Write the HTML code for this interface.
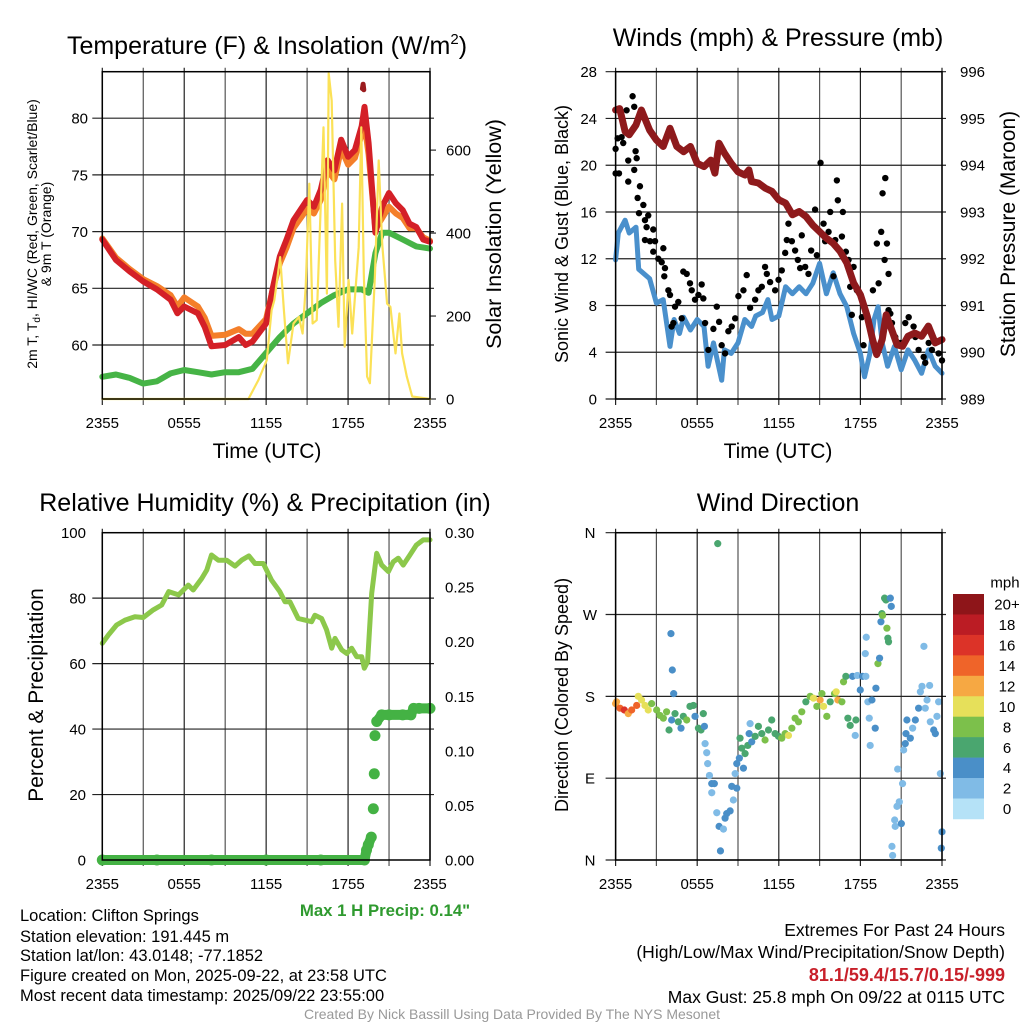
<!DOCTYPE html>
<html><head><meta charset="utf-8">
<style>
html,body{margin:0;padding:0;background:#fff;}
svg{display:block;font-family:"Liberation Sans",sans-serif;}
</style></head>
<body>
<svg id="fig" width="1024" height="1024" viewBox="0 0 1024 1024" xmlns="http://www.w3.org/2000/svg">
<rect x="0" y="0" width="1024" height="1024" fill="#fff"/>
<g id="grids"></g>
<g id="marks"></g>
<g id="frames"></g>
<g id="labels" font-size="15" fill="#000"></g>

<text x="267" y="54" font-size="25" text-anchor="middle">Temperature (F) &amp; Insolation (W/m<tspan dy="-10" font-size="15">2</tspan><tspan dy="10">)</tspan></text>
<text x="778" y="46" font-size="25" text-anchor="middle">Winds (mph) &amp; Pressure (mb)</text>
<text x="265" y="511" font-size="25" text-anchor="middle">Relative Humidity (%) &amp; Precipitation (in)</text>
<text x="778" y="511" font-size="25" text-anchor="middle">Wind Direction</text>

<text x="267" y="458" font-size="21" text-anchor="middle">Time (UTC)</text>
<text x="778" y="458" font-size="21" text-anchor="middle">Time (UTC)</text>

<text transform="translate(37,234) rotate(-90)" font-size="14" text-anchor="middle">2m T, T<tspan dy="3" font-size="10">d</tspan><tspan dy="-3">, HI/WC (Red, Green, Scarlet/Blue)</tspan></text>
<text transform="translate(51,234) rotate(-90)" font-size="14" text-anchor="middle">&amp; 9m T (Orange)</text>
<text transform="translate(501,234) rotate(-90)" font-size="21.5" text-anchor="middle">Solar Insolation (Yellow)</text>
<text transform="translate(568,234) rotate(-90)" font-size="18" text-anchor="middle">Sonic Wind &amp; Gust (Blue, Black)</text>
<text transform="translate(1015,234) rotate(-90)" font-size="21" text-anchor="middle">Station Pressure (Maroon)</text>
<text transform="translate(43,695) rotate(-90)" font-size="21" text-anchor="middle">Percent &amp; Precipitation</text>
<text transform="translate(568,695) rotate(-90)" font-size="18" text-anchor="middle">Direction (Colored By Speed)</text>

<text x="385" y="916" font-size="16.8" font-weight="bold" fill="#2f9a2f" text-anchor="middle">Max 1 H Precip: 0.14"</text>

<g font-size="16.5">
<text x="20" y="921">Location: Clifton Springs</text>
<text x="20" y="942">Station elevation: 191.445 m</text>
<text x="20" y="961">Station lat/lon: 43.0148; -77.1852</text>
<text x="20" y="981">Figure created on Mon, 2025-09-22, at 23:58 UTC</text>
<text x="20" y="1001">Most recent data timestamp: 2025/09/22 23:55:00</text>
</g>
<g font-size="17.5" text-anchor="end">
<text x="1005" y="936">Extremes For Past 24 Hours</text>
<text x="1005" y="958">(High/Low/Max Wind/Precipitation/Snow Depth)</text>
<text x="1005" y="981" font-size="18" font-weight="bold" fill="#c8202a">81.1/59.4/15.7/0.15/-999</text>
<text x="1005" y="1003">Max Gust: 25.8 mph On 09/22 at 0115 UTC</text>
</g>
<text x="512" y="1019" font-size="14" fill="#999" text-anchor="middle">Created By Nick Bassill Using Data Provided By The NYS Mesonet</text>
</svg>

<script>
// ---------- data ----------
const timeTickLabels = ["2355","0555","1155","1755","2355"];
// Panel 1: temperature (F)
const tempHours = [0,1,2,3,4,5,5.5,6,7,7.5,8,9,10,10.5,11,12,12.5,13,13.5,14,15,15.5,16,16.5,17,17.5,18,18.5,19,19.2,19.5,20,20.5,21,21.5,22,22.5,23,23.5,24];
const tempRed   = [69.3,67.5,66.5,65.6,64.9,64,62.8,63.4,62.8,61.6,59.9,60,60.7,60,60.3,61.9,65.1,67.8,69.3,71,72.8,72.2,73.7,76.3,75.4,78.1,76.6,77.2,79.3,81,77.8,69.9,72.2,73.4,72.5,71.9,70.7,70.4,69.3,69.1];
const tempOrange= [69.4,67.7,66.7,65.8,65.2,64.4,63.4,64.2,63.4,62.4,60.8,60.9,61.4,61,61,62.3,65.0,67.2,68.6,70.3,72.0,71.6,72.8,75.4,74.6,77.3,75.9,76.5,78.6,79.5,76.8,70.2,71.2,72.2,71.6,71.2,70.3,70.3,69.5,69.2];
const dewHours  = [0,1,2,3,4,5,6,7,8,9,10,11,12,13,14,15,16,17,18,19,19.5,20,20.5,21,22,23,24];
const dewpoint  = [57.2,57.4,57.1,56.6,56.8,57.5,57.8,57.6,57.4,57.6,57.6,57.9,59.3,60.7,61.9,62.8,63.7,64.4,64.9,64.9,64.6,68.1,69.9,69.9,69.3,68.7,68.5];
const heatIdxHours = [19.05,19.1,19.15];
const heatIdx      = [82.6,83.0,82.5];
const tempTicks = [60,65,70,75,80];
const solarHours = [0,10.7,11.44,12.05,12.4,12.6,13.03,13.3,13.6,14.0,14.4,14.67,14.9,15.16,15.4,15.7,16.2,16.45,16.58,16.8,17.06,17.3,17.56,17.75,18.04,18.3,18.78,18.97,19.15,19.39,19.6,19.97,20.24,20.5,20.86,21.1,21.47,21.76,21.96,22.3,22.7,24];
const solar      = [0,0,46,94,214,238,342,214,86,182,198,158,270,519,182,190,655,254,785,719,334,174,471,126,287,158,366,655,302,54,38,302,575,374,230,222,110,206,110,54,6,0];
const solarTicks = [0,200,400,600];
// Panel 2: winds (mph) and pressure (mb)
const windHours = [0,0.2,0.7,1,1.5,1.7,2,2.5,3,3.5,4,4.3,4.7,5,5.5,6,6.5,6.8,7.2,7.8,8,8.5,9,9.5,10,10.3,10.8,11.2,11.5,12,12.5,13,13.5,14,14.5,15,15.5,16,16.5,17,17.5,18,18.3,18.7,19,19.3,19.6,20,20.5,21,21.5,22,22.5,23,23.5,24];
const windSpeed = [11.9,14.2,15.3,14.2,14.7,11.1,10.8,10.3,8.2,8.5,4.5,6.8,5.6,7.0,5.9,6.8,6.2,2.8,4.8,1.6,4.2,3.9,4.8,6.8,6.2,7.1,7.4,8.5,6.8,7.1,9.6,9.0,9.6,9.0,9.9,11.6,9.0,10.8,9.0,7.9,5.6,3.9,1.9,3.9,6.8,7.9,4.8,2.8,4.5,2.5,4.2,3.3,2.2,4.2,2.8,2.2];
const gustHours = [0,0,0.15,0.25,0.44,0.56,0.81,0.93,1.25,1.37,1.47,1.55,1.37,0.93,1.79,1.62,2.04,1.72,2.16,2.40,2.28,2.77,2.16,2.53,2.90,2.77,3.51,3.14,3.39,3.63,3.58,3.88,4.0,4.37,4.61,4.98,5.23,5.47,5.60,5.84,6.09,6.33,6.45,4.25,4.12,4.86,6.58,6.82,7.19,7.44,7.61,7.80,8.05,8.29,8.54,8.79,9.03,9.40,9.64,9.89,10.26,10.50,10.75,10.99,11.12,11.36,11.73,11.98,12.22,12.47,12.59,12.71,12.96,13.20,13.40,13.57,13.69,13.94,14.18,14.38,14.67,14.80,15.07,15.29,15.41,15.66,15.78,16.02,16.15,16.27,16.34,16.64,16.71,16.93,17.13,17.25,17.50,17.74,17.37,18.11,18.23,18.92,19.21,19.34,19.53,19.63,19.83,19.78,19.95,20.07,20.07,20.20,20.32,20.56,20.93,21.30,21.55,21.91,22.04,22.28,22.65,22.77,23.02,23.26,23.75,24.0];
const gustSpeed = [19.3,21.4,22.3,19.3,22.4,21.9,24.7,20.4,25.9,25.0,21.2,20.6,19.6,18.6,18.2,17.2,16.6,15.9,15.3,15.7,14.7,14.5,13.6,13.5,13.5,12.6,12.9,12.0,11.7,11.2,10.5,9.3,8.9,7.9,8.3,10.9,10.7,9.9,9.3,8.5,8.9,9.8,8.6,6.5,6.2,6.9,6.5,4.2,6.0,7.9,6.6,4.6,3.9,5.8,6.2,6.9,8.8,9.3,10.6,7.8,8.5,9.3,9.6,11.3,10.7,10.0,9.3,10.2,11.0,12.5,13.6,15.0,13.5,12.7,11.9,11.2,14.0,11.3,10.7,12.7,16.2,12.3,20.2,15.0,13.5,14.3,16.0,10.5,13.6,18.7,17.0,13.9,16.0,12.6,11.9,9.6,11.3,9.3,7.2,7.0,4.6,9.3,13.3,9.9,14.3,17.6,18.9,11.9,13.3,10.7,7.6,7.3,6.5,5.3,4.8,6.5,7.0,6.2,5.3,4.2,3.6,3.1,4.8,4.2,3.9,3.3];
const presHours = [0,0.3,0.7,1,1.5,1.9,2.5,3,3.5,4,4.5,5,5.5,6,6.5,7,7.3,7.6,8,8.5,9,9.5,9.8,10,10.5,11,11.5,12,12.5,13,13.5,14,14.5,15,15.5,16,16.5,17,17.5,18,18.5,18.9,19.2,19.6,19.9,20.3,20.7,21.1,21.5,22,22.5,23,23.5,24];
const pressure  = [995.18,995.21,994.72,994.65,994.86,995.18,994.75,994.54,994.40,994.79,994.40,994.29,994.40,994.04,993.97,994.11,993.83,994.47,994.26,994.04,993.86,993.79,993.90,993.65,993.62,993.51,993.44,993.26,993.19,992.94,993.01,992.90,992.72,992.58,992.44,992.33,992.16,991.91,991.48,991.23,990.77,990.27,989.95,990.27,990.80,990.48,990.16,990.13,990.34,990.41,990.34,990.56,990.20,990.27];
const windTicks = [0,4,8,12,16,20,24,28];
const presTicks = [989,990,991,992,993,994,995,996];
// Panel 3: humidity (%) and precipitation (in)
const rhHours = [0,0.44,1.05,1.66,2.39,3.0,3.73,4.35,4.86,5.59,6.3,6.66,7.28,7.65,8.0,8.5,9.1,9.72,10.2,10.74,11.18,11.79,12.4,13.0,13.38,13.74,14.35,14.84,15.33,15.57,16.06,16.43,16.8,17.04,17.53,17.9,18.26,18.63,19.0,19.19,19.43,19.73,20.1,20.46,20.95,21.31,21.68,22.04,22.53,23.0,23.5,24.0];
const rh      = [66.2,68.7,71.8,73.3,74.3,74.1,76.4,77.9,82.0,81.0,84.0,82.5,86.0,88.6,93.2,91.6,91.6,89.8,91.6,92.9,90.6,90.6,85.5,82.0,78.9,78.9,73.8,73.3,72.8,74.8,73.8,70.3,64.7,67.7,64.2,63.1,64.7,62.1,62.1,58.6,60.6,81.5,93.7,90.1,88.1,91.1,92.2,90.1,93.2,96.2,97.8,97.8];
const precipHours = [0,4,8,12,16,19.2,19.35,19.48,19.7,19.85,19.92,19.97,20.1,20.46,21,22,22.6,22.8,23.2,24];
const precip      = [0,0,0,0,0,0,0.009,0.014,0.021,0.047,0.079,0.114,0.127,0.133,0.133,0.133,0.133,0.139,0.139,0.139];
const rhTicks = [0,20,40,60,80,100];
const precipTicks = ["0.00","0.05","0.10","0.15","0.20","0.25","0.30"];
// Panel 4: wind direction (deg) colored by speed (mph)
const dirHours = [0,0.07,0.32,0.64,0.93,1.18,1.55,1.67,1.91,2.16,2.40,2.65,3.02,3.26,3.51,3.75,3.93,4.12,4.37,4.61,4.81,4.98,5.23,5.47,5.72,5.84,6.09,6.28,6.45,6.53,4.07,4.17,4.27,6.58,6.70,6.77,6.90,7.07,7.26,7.07,7.44,7.61,7.93,8.17,8.42,8.05,7.71,7.51,8.54,8.91,8.66,8.79,8.91,9.10,9.15,9.40,9.28,9.52,9.72,9.82,9.89,10.01,10.26,10.50,10.75,10.99,11.24,11.48,11.73,11.98,12.22,12.47,12.71,12.96,13.20,13.45,13.69,13.99,14.31,14.55,14.80,15.04,15.17,15.29,15.53,15.78,16.10,16.22,16.34,16.64,16.76,16.93,17.08,17.25,17.42,17.67,17.62,17.77,17.99,18.16,18.40,18.36,18.43,18.55,18.65,18.72,18.85,19.09,19.14,19.29,19.41,19.51,19.58,19.63,19.78,19.88,19.95,20.02,20.07,20.20,20.27,20.32,20.37,20.52,20.56,20.69,20.86,20.74,21.01,21.10,21.18,21.30,21.42,21.35,21.67,21.84,22.04,22.28,22.41,22.53,22.67,22.77,22.90,23.09,23.14,23.39,23.51,23.63,23.75,23.88,24.0,23.95];
const dirDeg   = [172,174,167,165,161,165,170,180,176,170,165,172,165,159,156,163,143,154,161,152,145,158,154,169,170,158,145,143,161,147,249,209,183,128,118,106,93,84,84,74,52,37,34,51,54,46,10,348,81,79,66,95,106,112,134,101,123,117,126,139,150,130,136,147,139,132,143,154,139,136,134,139,137,145,156,152,163,174,180,178,169,176,183,169,158,174,183,185,176,174,196,202,156,148,202,154,137,203,187,202,202,227,245,174,156,126,176,145,189,216,222,262,271,269,288,286,255,244,240,288,279,15,5,44,37,59,64,100,40,84,121,128,154,139,134,145,154,167,185,191,235,167,176,192,152,143,139,158,174,95,31,13];
const dirSpeed = [12,13,14,16,13,14,14,10,10,10,10,9,8,8,8,8,6,5,6,6,5,6,8,6,6,5,6,6,6,4,4,4,4,2,2,2,2,4,4,2,2,4,2,4,4,4,4,6,4,4,2,2,4,4,6,4,6,6,6,4,2,4,6,6,6,8,6,6,6,6,8,8,10,8,8,8,8,6,8,10,8,12,8,10,8,6,8,10,12,8,8,6,6,6,4,6,2,2,4,4,2,2,2,2,2,2,4,4,4,8,4,4,6,8,6,6,8,6,6,4,4,2,2,2,2,2,2,2,4,2,2,4,4,4,4,2,4,4,2,2,2,2,2,2,2,4,4,2,2,2,4,4];
const dirTicks = [0,90,180,270,360];
const dirTickLabels = ["N","E","S","W","N"];
const cbLabels = ["20+","18","16","14","12","10","8","6","4","2","0"];
const cbColors = ["#8e1519","#bb1c24","#dc3328","#ef6429","#f6a843","#e6e05a","#7cc04b","#4aa66f","#4a8fc8","#80bbe6","#b5e2f7"];

// ---------- helpers ----------
const NS = "http://www.w3.org/2000/svg";
const G = {grid:document.getElementById('grids'), marks:document.getElementById('marks'), frame:document.getElementById('frames'), lab:document.getElementById('labels')};
function mk(tag, attrs, parent){ const e=document.createElementNS(NS,tag); for(const k in attrs) e.setAttribute(k,attrs[k]); parent.appendChild(e); return e; }
function lin(d0,d1,r0,r1){ return v => r0 + (v-d0)*(r1-r0)/(d1-d0); }

const P1={x0:102.3,x1:430,y0:71.7,y1:399};
const P2={x0:615.6,x1:942,y0:71.7,y1:399};
const P3={x0:102.3,x1:430,y0:532.7,y1:860};
const P4={x0:615.6,x1:942,y0:532.7,y1:860};

function timeAxis(P, name){
  const x = lin(0,24,P.x0,P.x1);
  for(let h=0; h<=24; h+=3){
    const l = mk('line',{x1:x(h),x2:x(h),y1:P.y0-4,y2:P.y1+6,stroke:(h%6===0)?'#222':'#555','stroke-width':1.2},G.grid);
    
    
  }
  timeTickLabels.forEach((t,i)=>{
    const tx = mk('text',{x:x(i*6),y:P.y1+29,'text-anchor':'middle','font-size':15},G.lab);
    tx.textContent=t;
    
    
  });
  const f = mk('rect',{x:P.x0,y:P.y0,width:P.x1-P.x0,height:P.y1-P.y0,fill:'none',stroke:'#000','stroke-width':1.5},G.frame);
  
  
  return x;
}
function hGrid(P, y, name, ext){
  const l = mk('line',{x1:P.x0-(ext?10:0),x2:P.x1+(ext?4:0),y1:y,y2:y,stroke:'#222','stroke-width':1.2},G.grid);
  
  
}
function label(x,y,txt,anchor,name,size){
  const t = mk('text',{x:x,y:y,'text-anchor':anchor,'font-size':size||15,dy:'0.36em'},G.lab);
  t.textContent = txt;
  
  
}
function polyline(xs,ys,xf,yf,color,w,name){
  const pts = xs.map((h,i)=>xf(h).toFixed(1)+','+yf(ys[i]).toFixed(1)).join(' ');
  const p = mk('polyline',{points:pts,fill:'none',stroke:color,'stroke-width':w,'stroke-linejoin':'round','stroke-linecap':'round'},G.marks);
  
  
}

// ---------- Panel 1 ----------
(function(){
  const x = timeAxis(P1,'temperature');
  const y = lin(55.24,84.1,P1.y1,P1.y0);
  const ys = lin(0,789,P1.y1,P1.y0);
  tempTicks.forEach(v=>{ hGrid(P1,y(v),'temperature-horizontal-gridline',true); label(88,y(v),String(v),'end','temperature-y-tick-label'); });
  solarTicks.forEach(v=>{
    const t = mk('line',{x1:P1.x1,x2:P1.x1+6,y1:ys(v),y2:ys(v),stroke:'#000'},G.grid);
    
    
    label(446,ys(v),String(v),'start','solar-y-tick-label');
  });
  polyline(dewHours,dewpoint,x,y,'#46b446',6,'dewpoint-line');
  polyline(tempHours,tempOrange,x,y,'#f47f2a',6,'temperature-9m-line');
  polyline(tempHours,tempRed,x,y,'#d42027',6,'temperature-2m-line');
  polyline(heatIdxHours,heatIdx,x,y,'#9b1b1e',5,'heat-index-line');
  polyline(solarHours,solar,x,y=>ys(y),'#fbe157',2.2,'solar-insolation-line');
})();

// ---------- Panel 2 ----------
(function(){
  const x = timeAxis(P2,'wind');
  const y = lin(0,28,P2.y1,P2.y0);
  const yp = lin(989,996,P2.y1,P2.y0);
  windTicks.forEach(v=>{ hGrid(P2,y(v),'wind-horizontal-gridline',true); label(597,y(v),String(v),'end','wind-y-tick-label'); });
  presTicks.forEach(v=>{ label(960,yp(v),String(v),'start','pressure-y-tick-label'); });
  polyline(windHours,windSpeed,x,y,'#4a90cc',5,'sonic-wind-line');
  gustHours.forEach((h,i)=>{
    const c = mk('circle',{cx:x(h),cy:y(gustSpeed[i]),r:3.2,fill:'#000'},G.marks);
    
    
  });
  polyline(presHours,pressure,x,yp,'#8e1a1c',7,'pressure-line');
})();

// ---------- Panel 3 ----------
(function(){
  const x = timeAxis(P3,'humidity');
  const y = lin(0,100,P3.y1,P3.y0);
  const yr = lin(0,0.30,P3.y1,P3.y0);
  rhTicks.forEach(v=>{ if(v>0&&v<100) hGrid(P3,y(v),'humidity-horizontal-gridline',true); label(86,y(v),String(v),'end','humidity-y-tick-label'); });
  precipTicks.forEach((t,i)=>{ label(445,yr(i*0.05),t,'start','precip-y-tick-label'); });
  polyline(rhHours,rh,x,y,'#8cc84b',5,'relative-humidity-line');
  for(let i=1;i<precipHours.length;i++){
    if(Math.abs(precip[i]-precip[i-1])<0.01){
      const s = mk('line',{x1:x(precipHours[i-1]),y1:yr(precip[i-1]),x2:x(precipHours[i]),y2:yr(precip[i]),stroke:'#44b244','stroke-width':10,'stroke-linecap':'round'},G.marks);
      
      
    }
  }
  precipHours.forEach((h,i)=>{
    const c = mk('circle',{cx:x(h),cy:yr(precip[i]),r:5.5,fill:'#44b244'},G.marks);
    
    
  });
})();

// ---------- Panel 4 ----------
(function(){
  const x = timeAxis(P4,'direction');
  const y = lin(0,360,P4.y1,P4.y0);
  dirTicks.forEach((v,i)=>{ hGrid(P4,y(v),'direction-horizontal-gridline',true); label(590,y(v),dirTickLabels[i],'middle','direction-y-tick-label'); });
  dirHours.forEach((h,i)=>{
    const bin = Math.min(10, Math.floor(dirSpeed[i]/2));
    const c = mk('circle',{cx:x(h),cy:y(dirDeg[i]),r:3.6,fill:cbColors[10-bin]},G.marks);
    
    
  });
  const top=594, bh=20.45;
  cbColors.forEach((c,i)=>{
    const r = mk('rect',{x:953,y:top+i*bh,width:31,height:bh+0.3,fill:c},G.marks);
    
    
    label(1007,top+i*bh+bh/2,cbLabels[i],'middle','colorbar-label');
  });
  label(1005,582,'mph','middle','colorbar-title');
})();
</script>
</body></html>
